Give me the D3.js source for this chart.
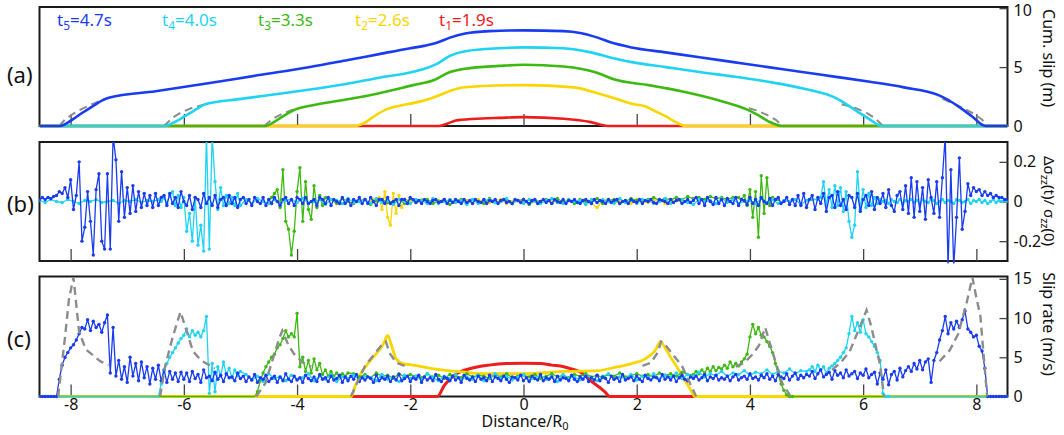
<!DOCTYPE html>
<html><head><meta charset="utf-8">
<script src="https://cdnjs.cloudflare.com/ajax/libs/d3/7.8.5/d3.min.js"></script>
<style>body{margin:0;background:#fff}svg{display:block}text{font-family:"Noto Sans",sans-serif;fill:#111}</style>
</head><body><svg id="c" width="1064" height="435"></svg>
<script>
// ---------- ticks / labels ----------
const xTicks = [-8,-6,-4,-2,0,2,4,6,8];
const aTicks = [0,5,10], bTicks = [-0.2,0,0.2], cTicks = [0,5,10,15];
const legendSub = ["5","4","3","2","1"];
const legendTime = ["4.7","4.0","3.3","2.6","1.9"];
const colors = ["#1a3cf0","#1ed4f2","#3dba12","#f9d600","#ee1c1c"]; // t5..t1
const legendX = [57,162,258,355,439];

// ---------- panel (a): cumulative slip ----------
const aBlue = [[-8.55,0],[-8.18,0],[-8.08,0.2],[-7.95,0.6],[-7.8,1.1],[-7.6,1.7],[-7.45,2.15],[-7.31,2.42],[-6.5,2.95],[-5.6,3.6],[-4.7,4.3],[-3.77,5.0],[-3.1,5.6],[-2.55,6.1],[-2.0,6.6],[-1.76,6.8],[-1.52,7.08],[-1.3,7.5],[-1.03,7.85],[-0.6,8.05],[0,8.12],[0.71,8.05],[1.0,7.9],[1.31,7.5],[1.55,7.08],[1.91,6.67],[2.51,6.25],[3.11,5.83],[3.71,5.42],[4.32,5.0],[4.92,4.58],[5.52,4.17],[6.12,3.75],[6.72,3.28],[7.32,2.64],[7.5,2.22],[7.68,1.67],[7.92,0.83],[8.16,0],[8.55,0]];
const aCyan = [[-8.55,0],[-6.33,0],[-6.2,0.25],[-6.08,0.55],[-5.84,1.25],[-5.61,1.86],[-4.99,2.3],[-4.38,2.7],[-3.77,3.1],[-3.16,3.55],[-2.55,4.1],[-1.95,4.6],[-1.52,5.3],[-1.3,5.95],[-1.03,6.35],[-0.43,6.6],[0,6.67],[0.7,6.6],[1.19,6.25],[1.55,5.8],[1.91,5.42],[2.51,5.0],[3.11,4.58],[3.71,4.2],[4.32,3.75],[4.92,3.2],[5.52,2.36],[5.76,1.67],[5.94,1.1],[6.12,0.55],[6.33,0],[8.55,0]];
const aGreen = [[-8.55,0],[-4.56,0],[-4.38,0.42],[-4.2,0.97],[-4.01,1.44],[-3.77,1.72],[-3.16,2.22],[-2.55,2.78],[-1.95,3.47],[-1.58,3.9],[-1.34,4.5],[-1.03,4.86],[-0.43,5.1],[0,5.2],[0.71,5.05],[1.31,4.5],[1.61,3.94],[2.21,3.47],[2.81,2.92],[3.41,2.22],[3.95,1.39],[4.13,0.97],[4.32,0.42],[4.56,0],[8.55,0]];
const aYellow = [[-8.55,0],[-2.98,0],[-2.8,0.28],[-2.68,0.69],[-2.43,1.39],[-2.19,1.72],[-1.95,1.94],[-1.64,2.33],[-1.4,2.78],[-1.16,3.19],[-0.73,3.39],[0,3.47],[0.89,3.28],[1.31,2.78],[1.55,2.44],[1.91,1.89],[2.15,1.67],[2.33,1.25],[2.51,0.83],[2.69,0.33],[2.87,0],[8.55,0]];
const aRed = [[-8.55,0],[-1.49,0],[-1.34,0.22],[-1.16,0.5],[-0.73,0.64],[-0.43,0.69],[0,0.75],[0.71,0.61],[1.19,0.33],[1.49,0],[8.55,0]];
const aDash = [
 [[-8.2,0],[-8.1,0.55],[-7.95,1.05],[-7.8,1.45],[-7.6,1.9],[-7.4,2.3]],
 [[7.4,2.3],[7.6,1.9],[7.8,1.45],[7.95,1.05],[8.1,0.55],[8.2,0]],
 [[-6.35,0],[-6.2,0.7],[-6.05,1.15],[-5.85,1.55],[-5.62,1.85]],
 [[5.62,1.85],[5.85,1.55],[6.05,1.15],[6.2,0.7],[6.35,0]],
 [[-4.58,0],[-4.45,0.55],[-4.3,0.95],[-4.1,1.35],[-3.98,1.5]],
 [[3.98,1.5],[4.1,1.35],[4.3,0.95],[4.45,0.55],[4.58,0]]
];

// ---------- panel (b): normal stress change; pieces = [x0, step, values] ----------
const bBlue = [
 [-8.55,0.05,[0.01,0.02,0.01,0.02,0.015,0.025,0.03,0.05]],
 [-8.15,0.05,[0.04,0.07,0.02,0.11,-0.04,0.03,0.20,-0.20,-0.13,0.05,-0.10,-0.27,0.06,0.14,-0.20,-0.24,0.14,-0.24,0.33,0.21,-0.10,0.15,-0.08,0.07,-0.06,0.08,-0.05,0.05,-0.03,0.04,-0.02,0.03,-0.03,0.04,-0.02,0.02]],
 [-6.35,0.05,[0.03,-0.02,0.04,-0.01,0.02,-0.03,0.05,0.00,-0.02,0.03,-0.04,0.02,0.01,-0.03,0.04,-0.01,0.02,-0.02,0.03,-0.03,0.01,0.02,-0.02,0.03,-0.01,0.02,-0.03,0.01]],
 [-4.95,0.05,[0.02,-0.01,0.01,-0.02,0.02,0.00,-0.01,0.02,-0.02,0.01,-0.01,0.02,0.00,-0.02,0.01,0.02,-0.01,0.01,-0.02,0.02,0.01,-0.01,0.02,-0.01,0.00,0.01,-0.02,0.02,0.01,-0.01,0.02,-0.02,0.01,0.00,-0.01,0.02,-0.01,0.01,-0.02,0.01,0.00,0.02,-0.01,0.01,-0.01,0.02,0.00,-0.02,0.01,0.01,-0.01,0.02,-0.01,0.00,0.01,-0.02,0.01,0.01,-0.01,0.02]],
 [-1.95,0.05,[0.01,-0.005,0.005,-0.01,0.01,0,-0.01,0.005,0.01,-0.005,0,0.01,-0.01,0.005,-0.005,0.01,0,-0.01,0.01,-0.005,0.005,-0.01,0.01,0,-0.005,0.01,-0.01,0.005,0,0.01,-0.01,0.005,0.01,-0.005,0,-0.01,0.01,0.005,-0.005,0.01,0,-0.01,0.005,0.01,-0.01,0,0.01,-0.005,0.005,-0.01,0.01,0,-0.005,0.01,-0.01,0.005,0,0.01,-0.005,-0.01,0.005,0.01,0,-0.01,0.01,-0.005,0.005,0,-0.01,0.01,-0.005,0.005,0.01,-0.01,0,0.005,-0.01,0.01,0,-0.005,0.01,-0.01,0.005,0,0.01,-0.005,-0.01,0.01,0.005,0,-0.01,0.01,-0.005,0.005,0.01,-0.01,0,0.01,-0.005,0.005]],
 [3.05,0.05,[0.02,-0.01,0.01,-0.02,0.02,0.00,-0.015,0.02,-0.01,0.01,-0.02,0.015,0.00,-0.01,0.02,-0.02,0.01,0.005,-0.015,0.02,-0.01,0.01,-0.02,0.02,0.00,-0.01,0.015,-0.02,0.01,0.02,-0.01,0.00,0.02,-0.015,0.01,-0.02]],
 [4.85,0.05,[0.03,-0.02,0.04,-0.03,0.01,0.03,-0.04,0.02,-0.01,0.04,-0.05,0.02,0.03,-0.03,0.05,-0.02,0.01,-0.04,0.03,0.02,-0.03,0.04,-0.05,0.01,0.03,-0.02,0.05,-0.04,0.02,-0.01,0.04,-0.03,0.06,-0.02,-0.05,0.03]],
 [6.65,0.05,[0.05,-0.04,0.08,-0.06,0.12,-0.08,0.10,-0.05,0.07,-0.09,0.11,0.02]],
 [7.25,0.05,[-0.06,0.10,-0.08,0.12,0.33,-0.33,0.16,-0.33,-0.08,0.22,-0.14,-0.05,0.09,0.03,0.07,0.05,0.06,0.03,0.05,0.03,0.04,0.02,0.03,0.02,0.02,0.01,0.01]]
];
const bCyan = [
 [-8.55,0.1,[0.005,-0.005,0.01,0,-0.005,0.01,0,-0.01,0.005,0,0.01,-0.005,0,0.005,-0.01,0.005,0,0.01,-0.005,0.005,0,0.01]],
 [-6.40,0.05,[0.00,0.02,-0.01,0.03,0.05,-0.02,0.03,-0.03,0.02,-0.15,-0.06,-0.20,0.02,-0.22,-0.12,-0.25,0.33,-0.24,0.33,0.10,-0.04,0.07,-0.02,0.03,-0.01,0.02,-0.02,0.04,-0.02]],
 [-4.9,0.1,[0.01,-0.01,0.015,0,-0.01,0.01,-0.015,0.005,0.01,-0.005,0.015,-0.01,0,0.01,-0.015,0.01,0.005,-0.01,0.015,-0.005,0,0.01,-0.01,0.015,-0.005,0.005,-0.015,0.01,0,-0.01,0.01,0.005,-0.01,0.015,-0.01,0,0.01,-0.005,0.005,-0.015,0.01,-0.01,0.005,0.01,-0.005,0,0.015,-0.01,0.005,-0.01,0.01,0,-0.01,0.005,0.015,-0.005,-0.01,0.01,0,0.005,-0.015,0.01,-0.005,0.01,0,-0.01,0.015,-0.005,0.005,-0.01,0.01,0.005,-0.01,0,0.015,-0.01,0.005,0.01,-0.005,-0.015,0.01,0,0.005,-0.01,0.015,-0.005,0.01,-0.01,0,0.005,-0.01,0.015,-0.005,0.01,-0.01,0.005,0,0.01,-0.015,0.005,0.01]],
 [5.2,0.05,[0.01,0.02,0.10,-0.02,0.06,-0.03,0.08,-0.02,0.07,-0.05,0.05,-0.10,-0.18,-0.12,0.15,-0.04,0.06,-0.03,0.04,-0.02,0.02,-0.01,0.01,0]],
 [6.4,0.05,[0.005,-0.01,0.01,0,-0.005,0.01,-0.01,0.005,0,0.01,-0.005,0.005,-0.01,0.01,0,-0.005,0.01,0.005,-0.01,0,0.01,-0.005,0.005,0,-0.01,0.01,0.005,-0.005,0,0.01,-0.01,0.005,0,0.01,-0.005,0.005,-0.01,0,0.01,-0.005,0.005,0,0.005,0]]
];
const bGreen = [
 [-4.5,0.05,[0.01,0.02,0.04,0.06,-0.03,0.16,-0.10,-0.14,-0.27,-0.15,0.05,0.17,-0.10,0.10,-0.04,-0.09,0.08,-0.03,0.03,-0.02,0.02]],
 [-3.4,0.1,[0.01,-0.01,0.015,0,-0.01,0.005,0.01,-0.015,0.005,0.01,-0.005,0,0.01,-0.01,0.015,-0.005,0.005,0.01,-0.01,0,0.01,-0.015,0.005,0.01,-0.005,0.01,0,-0.01,0.015,-0.005,0,0.01,-0.01,0.005,0.01,-0.015,0.005,0,0.01,-0.01,0.015,-0.005,0.005,-0.01,0.01,0,-0.005,0.015,-0.01,0.005,0.01,-0.01,0,0.015,0.005,-0.005,0.01,0.02,0.005,0.015,0.01,0.02,0.01,0.025,0.015,0.02,0.01,0.025,0.015,0.02,0.01,0.02]],
 [3.8,0.05,[0.02,0.01,0.03,-0.02,0.06,-0.08,0.05,-0.18,0.13,-0.06,0.12,-0.02,0.02,0.01,0.01]]
];
const bYellow = [
 [-2.7,0.05,[0,0.01,0,0.02,-0.04,0.05,-0.08,-0.12,0.04,-0.06,0.03,-0.03,0.01]],
 [-2.0,0.1,[0.005,-0.005,0.01,0,-0.01,0.005,0,0.01,-0.005,0,0.005,-0.01,0.01,0,-0.005,0.005,0.01,-0.01,0,0.005,-0.005,0.01,0,-0.01,0.005,0.01,-0.005,0,0.01,-0.005,0.005,0,-0.01,-0.03,0.005,0.01,-0.005,0,0.005,-0.01,0.01,0,-0.005,0.005,0.01,-0.01,0,0.005,-0.005,0]]
];

// ---------- panel (c): slip rate ----------
const cBlue = [
 [-8.55,0.05,[0,0,0,0,0,0,0]],
 [-8.20,0.05,[2.2,4.0,5.0,5.6,6.2,6.6,7.2,8.0,8.8,8.6,9.8,8.4,9.6,8.8,9.2,8.2,9.4,10.4,3.0,8.8,2.6,4.6,2.2,3.8,1.8,5.0,2.6,4.2,2.0,4.4,2.4,3.8,1.6,3.6,2.2,4.0,2.0,3.4,1.8,3.2,2.2,3.0,1.9,3.1,2.2]],
 [-5.95,0.05,[3.0,1.9,3.2,2.3,2.8,1.8,3.4,2.4,2.6,2.0,3.1,2.2,2.7,1.9,2.9,2.4,2.5,2.0,3.0,2.3]],
 [-4.95,0.05,[2.6,1.9,2.5,2.1,2.8,1.8,2.4,2.2,2.7,1.9,2.3,2.6,1.8,2.5,2.0,2.9,2.2,1.9,2.6,2.1,2.4,1.8,2.7,2.3,2.0,2.5,1.9,2.8,2.2,2.4,1.9,2.6,2.1,2.3,2.7,1.8,2.5,2.0,2.6,2.2,2.8,1.9,2.4,2.1,2.5,2.3,1.8,2.7,2.0,2.4,2.2,2.6,1.9,2.5,2.1,2.8,2.0,2.3,2.6,1.9,2.4,2.2,2.7,1.8,2.5,2.1,2.4,2.0,2.8,2.2,1.9,2.5,2.3,2.0,2.6,2.1,2.4,1.8,2.7,2.3,2.1,2.5,1.9,2.6,2.2,2.4,2.0,2.7,1.9,2.5,2.3,2.0,2.6,2.2,1.8,2.5,2.4,2.1,2.7,2.0,2.4,1.9,2.6,2.3,2.1,2.8,2.0,2.4,2.2,2.5,1.9,2.6,2.1,2.4,2.3,2.0,2.7,2.2,1.9,2.5]],
 [1.05,0.05,[2.2,2.6,1.9,2.4,2.1,2.7,2.0,2.5,2.3,1.8,2.6,2.2,2.4,1.9,2.8,2.1,2.3,2.5,2.0,2.6,2.2,1.9,2.7,2.3,2.1,2.5,2.4,2.0,2.8,2.2,2.5,2.1,2.6,1.9,2.4,2.7,2.2,2.0,2.5,2.3,2.6,2.1,2.4,2.8,2.0,2.5,2.3,2.7,2.1,2.4,2.2,2.6,2.0,2.5,2.8,2.1,2.4,2.6,2.2,2.9,2.3,2.5,2.1,2.7,2.4,2.9,2.2,2.6,2.0,2.8,2.5,2.3,2.9,2.1,2.6,3.0,2.2,2.7,2.4,2.8]],
 [5.05,0.05,[2.6,3.2,2.3,2.9,3.4,2.5,2.8,3.1,2.2,3.3,2.7,3.0,2.4,3.4,2.6,2.9,3.2,2.3,3.0,2.7,3.5,2.4,2.8,3.1]],
 [6.25,0.05,[1.6,3.0,2.2,3.4,1.5,2.8,3.2,2.1,3.6,2.5,3.3]],
 [6.8,0.05,[3.8,3.2,4.2,3.5,4.6,3.4,4.4,4.8,1.8,4.6]],
 [7.3,0.05,[5.6,7.2,8.4,10.2,8.0,9.4,8.6,9.6,8.8,9.8,10.9,8.6,8.2,7.6,7.8,6.4,5.8,3.6,0]],
 [8.25,0.05,[0,0,0,0,0,0,0]]
];
const cCyan = [
 [-8.55,2.1,[0,0]],
 [-6.40,0.05,[1.6,3.2,4.2,5.0,5.6,6.2,6.8,7.4,7.8,8.6,7.6,8.4,7.8,8.2,7.6,8.4,10.2,0.4,4.2,0.6,3.8,2.6,4.4,2.8,3.6,2.4,3.4,2.6,3.2]],
 [-4.9,0.1,[2.8,2.1,2.6,1.9,2.9,2.3,2.5,2.0,2.7,2.2,2.4,2.9,2.0,2.6,2.2,2.8,1.9,2.5,2.3,2.7,2.1,2.6,2.4,2.0,2.8,2.2,2.5,1.9,2.7,2.3,2.6,2.1,2.9,2.4,2.0,2.6,2.3,2.8,2.1,2.5,2.2,2.7,2.0,2.4,2.9,2.3,2.6,2.1,2.5,2.8,2.0,2.4,2.7,2.2,2.6,1.9,2.8,2.3,2.5,2.1,2.7,2.4,2.0,2.6,2.9,2.2,2.5,2.3,2.8,2.1,2.6,2.4,2.9,2.2,2.7,2.5,3.0,2.3,2.8,2.6,3.1,2.5,2.9,2.7,3.2,2.6,3.0,2.8,3.3,2.7,3.1,2.9,3.4,2.8,3.2,3.0,3.5,2.9,3.3]],
 [5.0,0.05,[3.2,3.4,3.8,3.2,4.0,3.4,3.8,3.0,3.6,3.9,4.2,4.6,5.0,5.6,6.2,8.0,10.2,8.4,9.4,8.2,9.8,8.0,7.6,7.0,6.4,5.6,4.6,0.4,0,0]],
 [6.5,2.05,[0,0]]
];
const cGreen = [
 [-8.55,3.8,[0,0]],
 [-4.70,0.05,[0.6,2.0,3.0,3.8,4.4,5.0,5.4,6.2,6.6,7.4,8.4,7.6,8.0,7.6,10.6,3.8,5.0,3.2,4.6,3.0,4.8,3.4,4.2,2.8,3.4,2.6,3.2,2.6,3.0,2.5,2.9,2.6,3.0]],
 [-3.0,0.1,[2.9,2.5,2.8,2.4,3.0,2.6,2.7,2.3,2.9,2.5,2.8,2.6,2.4,2.9,2.5,2.7,2.3,2.8,2.6,2.4,2.9,2.5,2.7,2.6,2.3,2.8,2.5,2.9,2.4,2.6,2.7,2.5,2.8,2.3,2.6,2.9,2.5,2.7,2.4,2.8,2.6,2.9,2.5,2.7,2.4,2.8,2.6,3.0,2.5,2.7,2.9,2.6,2.8,2.5,3.0,2.7,2.9,2.6,3.1,2.8]],
 [3.0,0.05,[2.8,3.2,2.9,3.4,3.0,3.6,3.2,3.8,3.3,3.7,3.5,4.0,3.6,4.4,3.8,4.2,3.9,4.4,4.8,5.4,7.6,9.2,8.0,8.8,7.8,7.6,7.0,6.4,5.6,4.2,2.8,1.6,0.8,0.2,0,0]],
 [4.8,3.75,[0,0]]
];
const cYellow = [[-8.55,0],[-3.04,0],[-2.98,1.2],[-2.92,2.2],[-2.86,3.1],[-2.77,4.0],[-2.68,4.8],[-2.55,5.9],[-2.46,6.9],[-2.4,7.8],[-2.34,6.7],[-2.25,4.8],[-2.13,4.2],[-1.95,4.0],[-1.64,3.6],[-1.34,3.3],[-1.03,3.1],[-0.73,2.9],[0,2.9],[0.71,3.2],[1.31,3.3],[1.61,3.7],[1.91,4.2],[2.15,4.8],[2.33,5.9],[2.42,7.0],[2.51,6.1],[2.6,5.0],[2.69,4.0],[2.78,2.9],[2.87,1.8],[2.95,0.9],[3.03,0],[8.55,0]];
const cRed = [[-8.55,0],[-1.52,0],[-1.4,1.4],[-1.3,2.2],[-1.22,2.7],[-1.1,3.2],[-0.97,3.5],[-0.8,3.8],[-0.61,4.0],[-0.3,4.2],[0,4.25],[0.3,4.2],[0.5,4.0],[0.71,3.8],[0.85,3.5],[1.01,3.1],[1.1,2.6],[1.19,2.0],[1.28,1.5],[1.37,1.0],[1.45,0.5],[1.52,0],[8.55,0]];
const cDash = [
 [[-8.22,0],[-8.18,2.6],[-8.1,7.5],[-8.03,12.4],[-7.95,15.2],[-7.85,8.2],[-7.73,6.0],[-7.48,4.5],[-7.33,4.0]],
 [[7.35,4.5],[7.53,5.9],[7.68,8.0],[7.83,12.0],[7.93,15.2],[8.0,12.6],[8.07,10.3],[8.12,6],[8.19,0]],
 [[-6.42,0],[-6.33,3.9],[-6.2,7.5],[-6.06,10.8],[-5.98,9.0],[-5.84,5.8],[-5.7,4.6],[-5.45,3.6]],
 [[5.45,3.4],[5.6,4.3],[5.76,5.7],[5.92,8.5],[6.06,11.0],[6.14,9.0],[6.3,4],[6.37,0]],
 [[-4.72,0],[-4.56,1.7],[-4.32,7.3],[-4.26,8.4],[-4.15,6.5],[-4.05,5.4],[-3.89,4.3],[-3.75,3.8]],
 [[3.75,3.8],[3.9,4.3],[4.05,5.4],[4.16,6.5],[4.27,8.8],[4.33,7.3],[4.57,1.7],[4.72,0]],
 [[-3.05,0],[-2.8,3.9],[-2.49,6.7],[-2.43,7.0],[-2.37,5.6],[-2.25,4.3],[-2.1,3.9]],
 [[2.1,3.9],[2.25,4.3],[2.37,5.6],[2.43,7.0],[2.49,6.7],[2.8,3.9],[3.05,0]]
];

// ---------- drawing ----------
const svg = d3.select("#c");
const X0 = 39.5, X1 = 1007.5;
const x = d3.scaleLinear().domain([-8.55,8.55]).range([X0,X1]);
const panels = [
  {id:"a", top:7, bot:126, y:d3.scaleLinear().domain([0,10.1]).range([126,7]), ticks:aTicks, fmt:d=>d, lab:74},
  {id:"b", top:142, bot:261, y:d3.scaleLinear().domain([-0.3,0.3]).range([261,142]), ticks:bTicks, fmt:d=>d===0?"0":d3.format(".1f")(d).replace("−","-"), lab:203},
  {id:"c", top:276.5, bot:396.5, y:d3.scaleLinear().domain([0,15.3]).range([396.5,276.5]), ticks:cTicks, fmt:d=>d, lab:338}
];
const defs = svg.append("defs");
panels.forEach(p=>{
  defs.append("clipPath").attr("id","clip"+p.id).append("rect")
    .attr("x",X0).attr("y",p.top).attr("width",X1-X0).attr("height",p.bot-p.top+2.5);
});
function pts(pieces){
  const out=[];
  pieces.forEach(pc=>pc[2].forEach((v,i)=>out.push([pc[0]+i*pc[1],v,pc[1]<=0.1])));
  return out;
}
function frame(p, withXLabels){
  const g = svg.append("g");
  g.append("rect").attr("x",X0).attr("y",p.top).attr("width",X1-X0).attr("height",p.bot-p.top)
    .attr("fill","none").attr("stroke","#1a1a1a").attr("stroke-width",2);
  const ax = g.append("g").attr("transform",`translate(0,${p.bot})`)
    .call(d3.axisBottom(x).tickValues(xTicks).tickSizeInner(-12).tickSizeOuter(0).tickPadding(2)
      .tickFormat(withXLabels? d=>d : ""));
  ax.select(".domain").remove();
  ax.selectAll(".tick line").attr("stroke","#444").attr("stroke-width",1.3);
  ax.selectAll(".tick text").attr("font-size",16).attr("font-family","Noto Sans").attr("fill","#111");
  const ay = g.append("g").attr("transform",`translate(${X1},0)`)
    .call(d3.axisRight(p.y).tickValues(p.ticks).tickSizeInner(-8).tickSizeOuter(0).tickPadding(6).tickFormat(p.fmt));
  ay.select(".domain").remove();
  ay.selectAll(".tick line").attr("stroke","#444").attr("stroke-width",1.3);
  ay.selectAll(".tick text").attr("font-size",16).attr("font-family","Noto Sans").attr("fill","#111")
    .attr("y", d=> (p.id==="a" && d===10) ? 2.5 : 0);
  svg.append("text").attr("x",7).attr("y",p.lab).attr("dominant-baseline","central")
    .attr("font-size",22).text(`(${p.id})`);
}
function smoothLine(g, data, y, color, w){
  g.append("path").datum(data).attr("fill","none").attr("stroke",color).attr("stroke-width",w)
    .attr("stroke-linejoin","round").attr("d", d3.line().x(d=>x(d[0])).y(d=>y(d[1])).curve(d3.curveMonotoneX));
}
function noisy(g, pieces, y, color){
  const data = pts(pieces);
  g.append("path").datum(data).attr("fill","none").attr("stroke",color).attr("stroke-width",1.3)
    .attr("stroke-linejoin","round").attr("d", d3.line().x(d=>x(d[0])).y(d=>y(d[1])));
  g.append("g").selectAll("circle").data(data.filter(d=>d[2])).join("circle")
    .attr("cx",d=>x(d[0])).attr("cy",d=>y(d[1])).attr("r",1.7).attr("fill",color);
}
function dashed(g, curves, y, w){
  curves.forEach(c=>g.append("path").datum(c).attr("fill","none").attr("stroke","#8c8c8c")
    .attr("stroke-width",w).attr("stroke-dasharray","8,5")
    .attr("d", d3.line().x(d=>x(d[0])).y(d=>y(d[1]))));
}

// panel a
frame(panels[0], false);
const ga = svg.append("g").attr("clip-path","url(#clipa)");
dashed(ga, aDash, panels[0].y, 2);
[aRed,aYellow,aGreen,aCyan,aBlue].forEach((d,i)=>smoothLine(ga, d, panels[0].y, colors[4-i], 2.6));

// panel b
frame(panels[1], false);
const gb = svg.append("g").attr("clip-path","url(#clipb)");
noisy(gb, bYellow, panels[1].y, colors[3]);
noisy(gb, bGreen, panels[1].y, colors[2]);
noisy(gb, bCyan, panels[1].y, colors[1]);
noisy(gb, bBlue, panels[1].y, colors[0]);

// panel c
frame(panels[2], true);
const gc = svg.append("g").attr("clip-path","url(#clipc)");
smoothLine(gc, cRed, panels[2].y, colors[4], 3);
smoothLine(gc, cYellow, panels[2].y, colors[3], 2.8);
noisy(gc, cGreen, panels[2].y, colors[2]);
noisy(gc, cCyan, panels[2].y, colors[1]);
noisy(gc, cBlue, panels[2].y, colors[0]);
dashed(gc, cDash, panels[2].y, 2.4);

// legend
legendSub.forEach((s,i)=>{
  const t = svg.append("text").attr("x",legendX[i]).attr("y",26).attr("font-size",17).style("fill",colors[i]);
  t.append("tspan").text("t");
  t.append("tspan").attr("dy",4).attr("font-size",12).text(s);
  t.append("tspan").attr("dy",-4).text("="+legendTime[i]+"s");
});

// axis titles
function vtitle(cx, cy, fs, build){
  const t = svg.append("text").attr("transform",`translate(${cx},${cy}) rotate(90)`)
    .attr("text-anchor","middle").attr("dominant-baseline","central").attr("font-size",fs);
  build(t);
}
vtitle(1049, 58, 16, t=>t.text("Cum. slip (m)"));
vtitle(1050, 201, 15, t=>{
  t.append("tspan").text("Δσ");
  t.append("tspan").attr("dy",4).attr("font-size",11).text("zz");
  t.append("tspan").attr("dy",-4).text("(t)/ σ");
  t.append("tspan").attr("dy",4).attr("font-size",11).text("zz");
  t.append("tspan").attr("dy",-4).text("(0)");
});
vtitle(1049, 324, 16, t=>t.text("Slip rate (m/s)"));
const xl = svg.append("text").attr("x",525).attr("y",427).attr("text-anchor","middle").attr("font-size",16);
xl.append("tspan").text("Distance/R");
xl.append("tspan").attr("dy",3).attr("font-size",11).text("0");
</script></body></html>
